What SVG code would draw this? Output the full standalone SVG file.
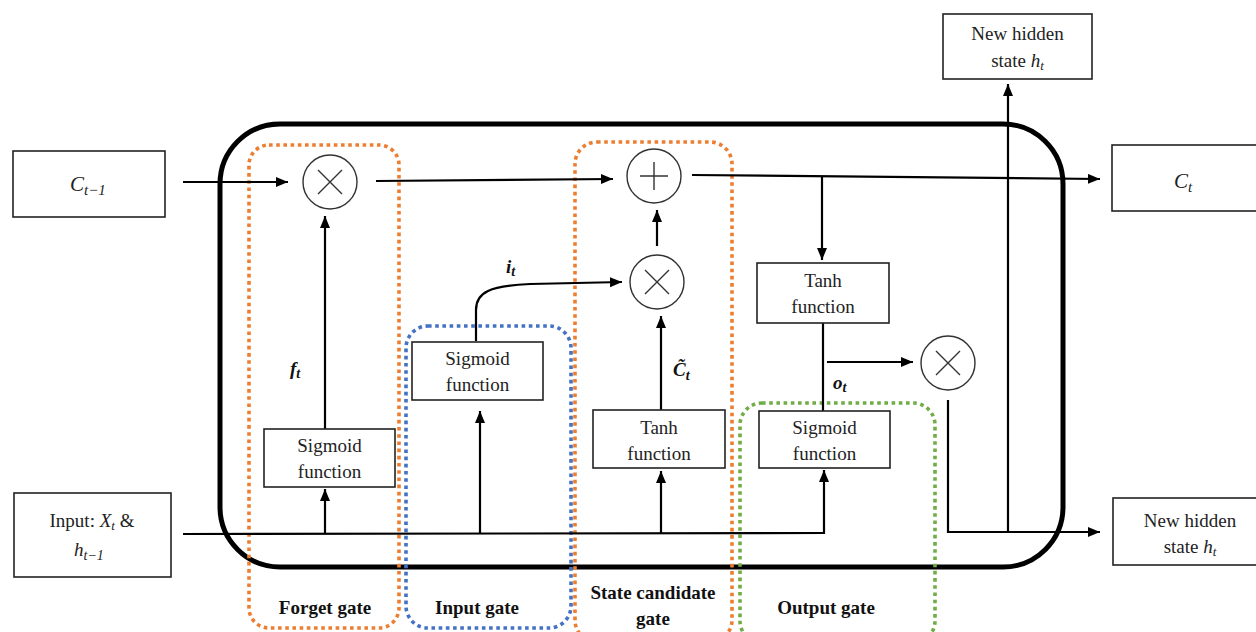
<svg xmlns="http://www.w3.org/2000/svg" width="1256" height="632" viewBox="0 0 1256 632">
<defs>
<marker id="ah" markerUnits="userSpaceOnUse" markerWidth="13" markerHeight="11" refX="12" refY="5" orient="auto">
<path d="M0,0 L12,5 L0,10 z" fill="#000"/>
</marker>
<style>
.box{fill:#fff;stroke:#222;stroke-width:1.6}
.op{fill:#fff;stroke:#333;stroke-width:1.4}
.sym{stroke:#333;stroke-width:1.4;fill:none}
.ln{fill:none;stroke:#000;stroke-width:2.2}
.arr{fill:none;stroke:#000;stroke-width:2.2;marker-end:url(#ah)}
.t{font-family:"Liberation Serif","Times New Roman",serif;font-size:19px;fill:#222;text-anchor:middle}
.g{font-family:"Liberation Serif","Times New Roman",serif;font-size:19px;font-weight:bold;fill:#111;text-anchor:middle}
.m{font-family:"Liberation Serif","DejaVu Serif",serif;font-style:italic;fill:#222}
.mb{font-family:"Liberation Serif","DejaVu Serif",serif;font-style:italic;font-weight:bold;fill:#111;font-size:19px}
.dot{fill:none;stroke-width:3.6;stroke-dasharray:3.6 3.6}
</style>
</defs>
<rect width="1256" height="632" fill="#fff"/>
<g id="cell">
<rect x="220" y="124" width="843" height="443" rx="60" fill="none" stroke="#000" stroke-width="5"/>
</g>
<g id="gates">
<rect x="249" y="145" width="150" height="483" rx="20" class="dot" stroke="#ED7D31"/>
<rect x="406" y="326" width="165" height="302" rx="22" class="dot" stroke="#4472C4"/>
<rect x="575" y="142" width="157" height="500" rx="22" class="dot" stroke="#ED7D31"/>
<rect x="740" y="403" width="195" height="240" rx="22" class="dot" stroke="#70AD47"/>
</g>
<g id="connectors">
<line x1="183" y1="182" x2="288" y2="182" class="arr"/>
<line x1="376" y1="181" x2="613" y2="179" class="arr"/>
<line x1="692" y1="175" x2="1100" y2="179" class="arr"/>
<line x1="822" y1="176" x2="822" y2="260" class="arr"/>
<line x1="823" y1="323" x2="823" y2="411" class="ln"/>
<line x1="827" y1="362" x2="913" y2="362" class="arr"/>
<polyline points="183,534 824,533 824,470" class="arr"/>
<line x1="325" y1="534" x2="325" y2="489" class="arr"/>
<line x1="480" y1="534" x2="480" y2="411" class="arr"/>
<line x1="661" y1="534" x2="661" y2="471" class="arr"/>
<line x1="325" y1="429" x2="325" y2="216" class="arr"/>
<line x1="661" y1="410" x2="661" y2="316" class="arr"/>
<line x1="657" y1="246" x2="657" y2="210" class="arr"/>
<path d="M476,341 L476,310 C476,292 490,286 530,284 L622,282" class="arr"/>
<polyline points="948,400 948,532 1100,532" class="arr"/>
<line x1="1008" y1="532" x2="1008" y2="84" class="arr"/>
</g>
<g id="forget-mult">
<circle cx="330" cy="182" r="27" class="op"/>
<path d="M318,170 L342,194 M342,170 L318,194" class="sym"/>
</g>
<g id="plus">
<circle cx="654" cy="176" r="27" class="op"/>
<path d="M654,162 L654,190 M640,176 L668,176" class="sym"/>
</g>
<g id="input-mult">
<circle cx="657" cy="282" r="27" class="op"/>
<path d="M645,270 L669,294 M669,270 L645,294" class="sym"/>
</g>
<g id="output-mult">
<circle cx="948" cy="363" r="27" class="op"/>
<path d="M936,351 L960,375 M960,351 L936,375" class="sym"/>
</g>
<g id="c-prev">
<rect x="13" y="151" width="152" height="66" class="box"/>
<text x="70" y="191" class="m" font-size="21">C<tspan font-size="15" dy="4">t−1</tspan></text>
</g>
<g id="input">
<rect x="14" y="493" width="157" height="84" class="box"/>
<text x="92" y="527" class="t">Input: <tspan class="m">X<tspan font-size="13" dy="3">t</tspan></tspan><tspan dy="-3"> &amp;</tspan></text>
<text x="74" y="556" class="m" font-size="19">h<tspan font-size="14" dy="4">t−1</tspan></text>
</g>
<g id="forget-sigmoid">
<rect x="264" y="429" width="131" height="58" class="box"/>
<text x="329.5" y="452" class="t">Sigmoid</text>
<text x="329.5" y="478" class="t">function</text>
</g>
<g id="input-sigmoid">
<rect x="412" y="342" width="131" height="58" class="box"/>
<text x="477.5" y="365" class="t">Sigmoid</text>
<text x="477.5" y="391" class="t">function</text>
</g>
<g id="state-tanh">
<rect x="593" y="410" width="132" height="58" class="box"/>
<text x="659" y="434" class="t">Tanh</text>
<text x="659" y="460" class="t">function</text>
</g>
<g id="output-tanh">
<rect x="757" y="263" width="132" height="60" class="box"/>
<text x="823" y="287" class="t">Tanh</text>
<text x="823" y="313" class="t">function</text>
</g>
<g id="output-sigmoid">
<rect x="759" y="411" width="131" height="57" class="box"/>
<text x="824.5" y="434" class="t">Sigmoid</text>
<text x="824.5" y="460" class="t">function</text>
</g>
<g id="hidden-top">
<rect x="943" y="14" width="149" height="65" class="box"/>
<text x="1017.5" y="40" class="t">New hidden</text>
<text x="1017.5" y="67" class="t">state <tspan class="m" font-size="19">h<tspan font-size="13" dy="3">t</tspan></tspan></text>
</g>
<g id="c-t">
<rect x="1112" y="145" width="150" height="66" class="box"/>
<text x="1174" y="188" class="m" font-size="21">C<tspan font-size="15" dy="4">t</tspan></text>
</g>
<g id="hidden-bottom">
<rect x="1113" y="498" width="150" height="67" class="box"/>
<text x="1190" y="527" class="t">New hidden</text>
<text x="1190" y="553" class="t">state <tspan class="m" font-size="19">h<tspan font-size="13" dy="3">t</tspan></tspan></text>
</g>
<g id="labels">
<text x="290" y="375" class="mb">f<tspan font-size="14" dy="3">t</tspan></text>
<text x="506" y="273" class="mb">i<tspan font-size="14" dy="3">t</tspan></text>
<text x="833" y="389" class="mb">o<tspan font-size="14" dy="3">t</tspan></text>
<text x="673" y="376" class="mb" font-size="21">C&#771;<tspan font-size="14" dy="4">t</tspan></text>
<text x="325" y="614" class="g">Forget gate</text>
<text x="477" y="614" class="g">Input gate</text>
<text x="653" y="599" class="g">State candidate</text>
<text x="653" y="625" class="g">gate</text>
<text x="826" y="614" class="g">Output gate</text>
</g>
</svg>
